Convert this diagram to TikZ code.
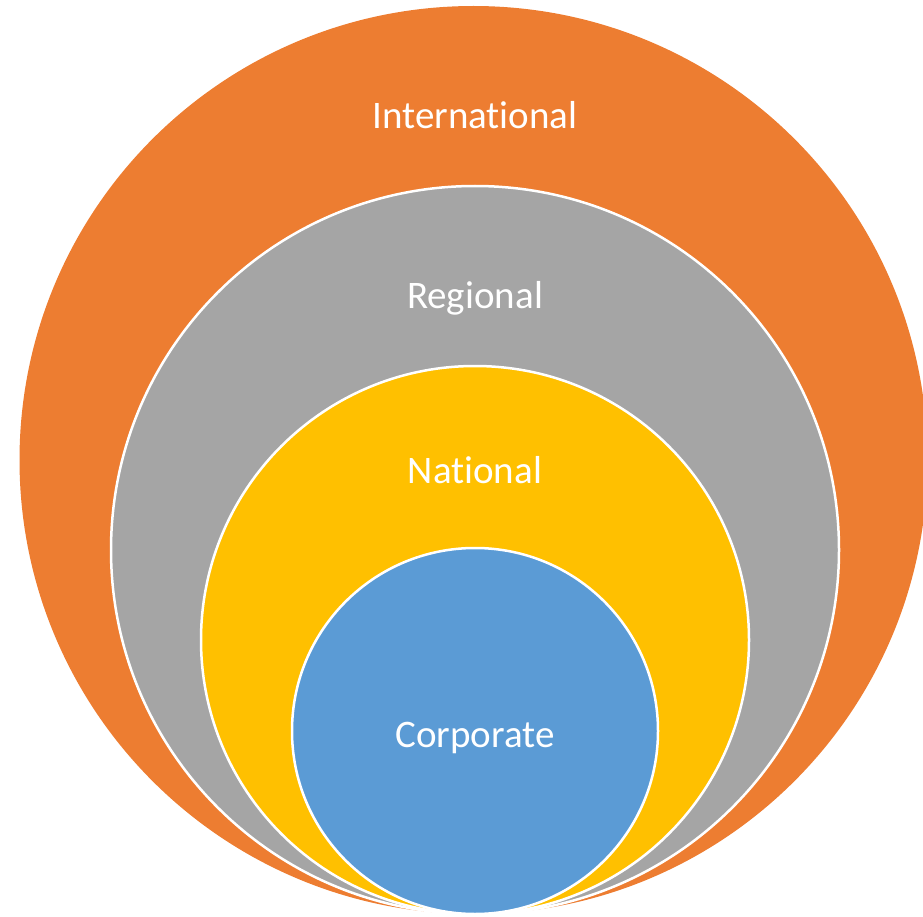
\documentclass[tikz,border=0pt]{standalone}
\usepackage{fontspec}
\setmainfont{Carlito}[Ligatures={NoCommon}]
\definecolor{ringorange}{HTML}{ED7D31}
\definecolor{ringgray}{HTML}{A5A5A5}
\definecolor{ringyellow}{HTML}{FFC000}
\definecolor{ringblue}{HTML}{5B9BD5}

\begin{document}
\begin{tikzpicture}[
    x=1pt, y=-1pt,
    ring/.style={draw=white, line width=2.5pt},
    lbl/.style={anchor=base, text=white, font=\fontsize{39}{46}\selectfont}
]

% 1. Geometric parameters (all circles touch at the bottom)
\pgfmathsetmacro{\Base}{914}
\pgfmathsetmacro{\Rintl}{454}
\pgfmathsetmacro{\Rreg}{364}
\pgfmathsetmacro{\Rnat}{274}
\pgfmathsetmacro{\Rcorp}{183}

\useasboundingbox (0,0) rectangle (923,917);
\begin{scope}
\clip (0,0) rectangle (923,917);

% 2. Nested circles
\fill[ringorange] (473.5,\Base-\Rintl) circle (\Rintl);
\filldraw[ring, fill=ringgray] (475,\Base-\Rreg) circle (\Rreg);
\filldraw[ring, fill=ringyellow] (475,\Base-\Rnat) circle (\Rnat);
\filldraw[ring, fill=ringblue] (475,\Base-\Rcorp) circle (\Rcorp);
\end{scope}

% 3. Labels
\node[lbl] (intl) at (475,129) {International};
\node[lbl] (reg) at (475,308) {Regional};
\node[lbl] (nat) at (475,483) {National};
\node[lbl] (corp) at (475,747) {Corporate};

\end{tikzpicture}
\end{document}
